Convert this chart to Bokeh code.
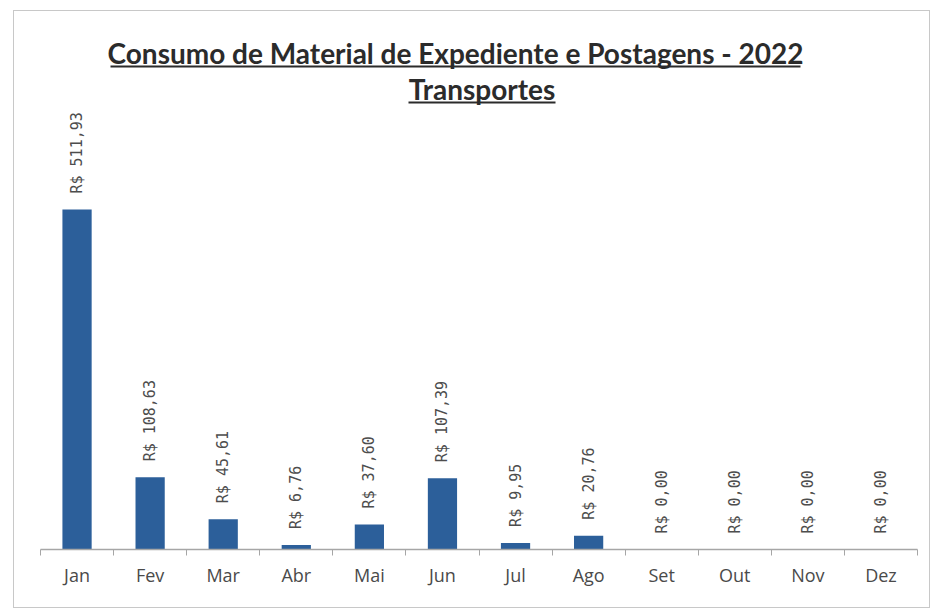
import math
from bokeh.plotting import figure
from bokeh.models import ColumnDataSource, Range1d, FixedTicker, Label, BoxAnnotation
from bokeh.embed import file_html
from bokeh.resources import INLINE
from bokeh.core.properties import value

months = ["Jan", "Fev", "Mar", "Abr", "Mai", "Jun", "Jul", "Ago", "Set", "Out", "Nov", "Dez"]
values = [511.93, 108.63, 45.61, 6.76, 37.60, 107.39, 9.95, 20.76, 0.00, 0.00, 0.00, 0.00]
title_text = "Consumo de Material de Expediente e Postagens - 2022"
subtitle_text = "Transportes"


def brl(v):
    return "R$ " + f"{v:.2f}".replace(".", ",")


pos = [i + 0.5 for i in range(len(months))]
src = ColumnDataSource(dict(x=pos, top=values, label=[brl(v) for v in values]))

p = figure(width=917, height=598, output_backend="svg", toolbar_location=None,
           title=None, x_range=Range1d(0, len(months)), y_range=Range1d(0, 796.5),
           min_border_left=26, min_border_right=14, min_border_top=9, min_border_bottom=60)
p.styles = {"border": "1px solid #c8c8c8", "margin-left": "13px", "margin-top": "10px"}

p.vbar(x="x", top="top", width=0.4, source=src, fill_color="#2C5F9A", line_color=None)
p.text(x="x", y="top", text="label", angle=math.pi / 2, text_align="left",
       text_baseline="middle", y_offset=-16, source=src,
       text_font=value("DejaVu Sans Mono"), text_font_size="15px", text_color="#4d4d4d")

p.yaxis.visible = False
p.xgrid.visible = False
p.ygrid.visible = False
p.outline_line_color = None

ax = p.xaxis[0]
ax.ticker = FixedTicker(ticks=pos, minor_ticks=list(range(len(months) + 1)))
ax.major_label_overrides = {x: m for x, m in zip(pos, months)}
ax.major_tick_line_color = None
ax.major_tick_out = 0
ax.major_tick_in = 0
ax.minor_tick_out = 6
ax.minor_tick_in = 0
ax.minor_tick_line_color = "#a6a6a6"
ax.axis_line_color = "#a6a6a6"
ax.axis_line_width = 1.5
ax.major_label_standoff = 7
ax.major_label_text_font = "Open Sans"
ax.major_label_text_font_size = "18px"
ax.major_label_text_color = "#4a4a4a"

p.add_layout(Label(x=415, y=497, x_units="screen", y_units="screen", text=title_text,
                   text_align="center", text_baseline="alphabetic", text_font="Lato",
                   text_font_style="bold", text_font_size="28px", text_color="#2b2b2b"))
p.add_layout(Label(x=441.5, y=461, x_units="screen", y_units="screen", text=subtitle_text,
                   text_align="center", text_baseline="alphabetic", text_font="Lato",
                   text_font_style="bold", text_font_size="28px", text_color="#2b2b2b"))
p.add_layout(BoxAnnotation(left=70, right=760, top=484, bottom=482,
                           left_units="screen", right_units="screen",
                           top_units="screen", bottom_units="screen",
                           fill_color="#2b2b2b", fill_alpha=1, line_color=None))
p.add_layout(BoxAnnotation(left=368, right=515, top=448, bottom=446,
                           left_units="screen", right_units="screen",
                           top_units="screen", bottom_units="screen",
                           fill_color="#2b2b2b", fill_alpha=1, line_color=None))

open("out.html", "w").write(file_html(p, INLINE))
